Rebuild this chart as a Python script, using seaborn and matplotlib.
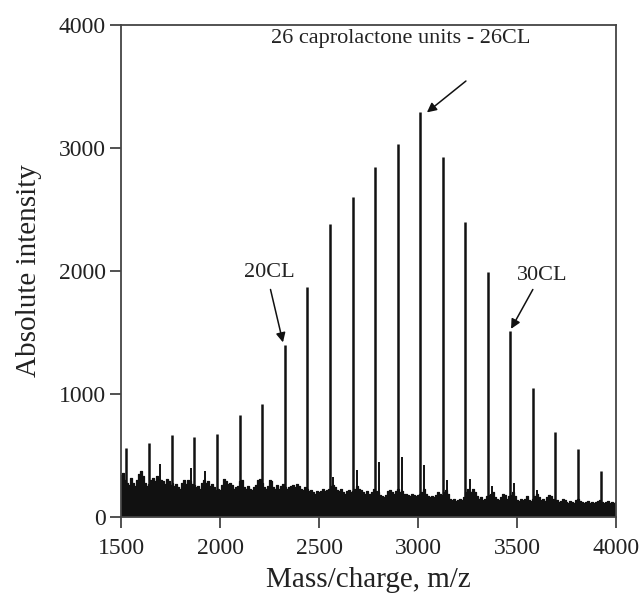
import numpy as np
import pandas as pd
import matplotlib
matplotlib.use('Agg')
import matplotlib.pyplot as plt
import seaborn as sns

# ------------------------------------------------------------
# DATA
# ------------------------------------------------------------

# main caprolactone oligomer peaks
peak_mz  = [1525, 1640, 1755, 1870, 1985, 2100, 2212, 2326, 2440, 2555, 2670,
            2784, 2897, 3010, 3124, 3238, 3352, 3466, 3580, 3694, 3808, 3922]
peak_int = [560, 600, 670, 650, 675, 830, 920, 1400, 1870, 2380, 2600,
            2850, 3030, 3290, 2930, 2400, 1990, 1510, 1050, 690, 555, 370]

# small satellite peaks next to the main series
sat_mz  = [1697, 1853, 1924, 2572, 2692, 2803, 2919, 3030, 3146, 3262, 3374, 3485, 3601]
sat_int = [430, 400, 370, 325, 380, 447, 485, 425, 300, 310, 255, 275, 220]

# baseline noise, one value every 10 Da from 1500 to 4000
noise_mz = list(range(1500, 4001, 10))
noise_int = [
    340, 360, 300, 280, 260, 320, 280, 250, 300, 350, 370, 330, 280, 250, 270, 300, 320, 290, 330, 310, 300, 290, 270, 310, 290,
    260, 280, 250, 270, 240, 230, 280, 300, 270, 300, 290, 270, 260, 240, 250, 230, 280, 300, 280, 290, 250, 270, 240, 220, 230,
    220, 260, 310, 290, 270, 280, 260, 230, 240, 250, 290, 300, 240, 230, 250, 230, 220, 240, 260, 300, 310, 280, 240, 230, 250,
    300, 290, 240, 230, 260, 230, 250, 270, 240, 230, 240, 250, 260, 240, 270, 250, 230, 220, 240, 230, 210, 220, 200, 190, 210,
    200, 215, 230, 210, 220, 230, 250, 260, 240, 220, 210, 230, 200, 190, 210, 220, 200, 215, 230, 250, 230, 220, 200, 190, 210,
    180, 190, 200, 230, 210, 200, 180, 170, 160, 180, 210, 220, 200, 190, 210, 230, 200, 210, 190, 190, 180, 170, 190, 180, 170,
    180, 190, 200, 230, 190, 170, 160, 170, 160, 180, 200, 190, 180, 200, 220, 190, 150, 140, 150, 130, 140, 150, 140, 160, 200,
    230, 210, 200, 230, 200, 170, 150, 160, 140, 150, 170, 180, 190, 200, 160, 150, 140, 160, 190, 180, 150, 170, 180, 200, 170,
    140, 130, 150, 140, 150, 170, 140, 130, 150, 170, 190, 160, 140, 150, 130, 160, 180, 170, 150, 130, 140, 120, 130, 150, 140,
    120, 110, 130, 120, 110, 140, 150, 130, 120, 110, 120, 130, 110, 120, 110, 120, 130, 140, 120, 110, 120, 130, 110, 120, 110,
    120,
]

x_ticks = [1500, 2000, 2500, 3000, 3500, 4000]
y_ticks = [0, 1000, 2000, 3000, 4000]

noise_df = pd.DataFrame({"mz": noise_mz, "intensity": noise_int})

# ------------------------------------------------------------
# PLOT
# ------------------------------------------------------------

sns.set_theme(style="ticks")
plt.rcParams['font.family'] = ['Liberation Serif', 'DejaVu Serif']

fig = plt.figure(figsize=(6.42, 5.97), dpi=100)
ax = fig.add_axes([0.1885, 0.134, 0.771, 0.824])

ink = '#111111'

# noise floor (stepped so the top stays jagged)
ax.fill_between(noise_df["mz"], 0, noise_df["intensity"], step='mid', color=ink, lw=0)
sns.lineplot(data=noise_df, x="mz", y="intensity", color=ink, lw=0.9,
             drawstyle='steps-mid', ax=ax)

# peaks
ax.vlines(sat_mz, 0, sat_int, color=ink, lw=1.4)
ax.vlines(peak_mz, 0, peak_int, color=ink, lw=1.8)

ax.set_xlim(1500, 4000)
ax.set_ylim(0, 4000)
ax.set_xticks(x_ticks)
ax.set_yticks(y_ticks)
ax.tick_params(axis='both', labelsize=17, length=8, width=1.2,
               direction='out', colors='#333333', labelcolor='#222222')
ax.tick_params(axis='x', pad=7)
ax.tick_params(axis='y', pad=3)

for s in ax.spines.values():
    s.set_color('#444444')
    s.set_linewidth(1.3)

ax.set_xlabel('Mass/charge, m/z', fontsize=21, color='#222222', labelpad=6)
ax.set_ylabel('Absolute intensity', fontsize=21, color='#222222', labelpad=12)

# annotations
arrow = dict(arrowstyle='-|>', color=ink, lw=1.1, mutation_scale=14, shrinkA=0, shrinkB=0)
ax.annotate('', xy=(3045, 3290), xytext=(3242, 3545), arrowprops=arrow)
ax.text(2915, 3890, '26 caprolactone units - 26CL', fontsize=16, color='#222222',
        ha='center', va='center')

ax.annotate('', xy=(2318, 1420), xytext=(2255, 1850), arrowprops=arrow)
ax.text(2250, 1985, '20CL', fontsize=16, color='#222222', ha='center', va='center')

ax.annotate('', xy=(3470, 1530), xytext=(3580, 1850), arrowprops=arrow)
ax.text(3625, 1965, '30CL', fontsize=16, color='#222222', ha='center', va='center')

fig.savefig('out.png', dpi=100)
plt.close(fig)
